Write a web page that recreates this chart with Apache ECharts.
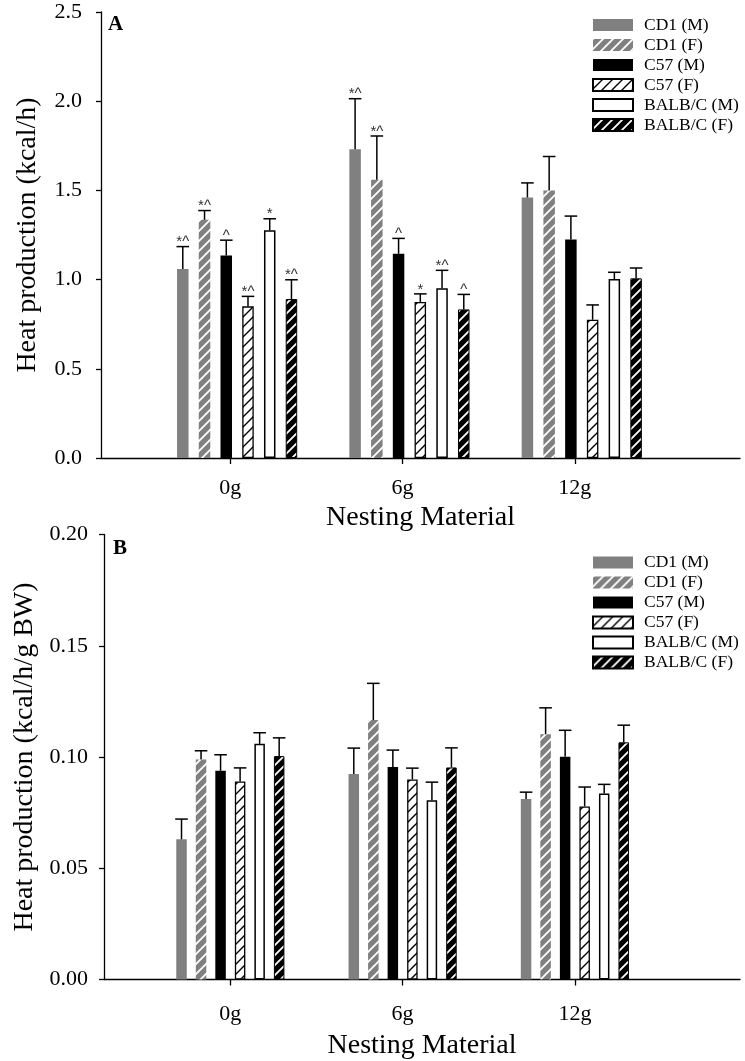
<!DOCTYPE html>
<html><head><meta charset="utf-8">
<script src="https://cdn.jsdelivr.net/npm/echarts@6/dist/echarts.min.js"></script>
<style>html,body{margin:0;padding:0;background:#fff}#c{width:745px;height:1061px}</style>
</head><body><div id="c"></div>
<script>
// ---- data ----
const categories = ['0g', '6g', '12g'];
const nestingGrams = [0, 6, 12];
const groupNames = ['CD1 (M)', 'CD1 (F)', 'C57 (M)', 'C57 (F)', 'BALB/C (M)', 'BALB/C (F)'];

// Panel A: heat production (kcal/h), mean and SEM per nesting level
const meanA_CD1_M  = [1.06, 1.73, 1.46];
const meanA_CD1_F  = [1.335, 1.56, 1.50];
const meanA_C57_M  = [1.135, 1.145, 1.225];
const meanA_C57_F  = [0.85, 0.875, 0.775];
const meanA_BALB_M = [1.276, 0.951, 1.003];
const meanA_BALB_F = [0.891, 0.833, 1.007];
const errA_CD1_M  = [0.125, 0.284, 0.082];
const errA_CD1_F  = [0.052, 0.245, 0.19];
const errA_C57_M  = [0.086, 0.086, 0.131];
const errA_C57_F  = [0.056, 0.045, 0.083];
const errA_BALB_M = [0.065, 0.101, 0.038];
const errA_BALB_F = [0.108, 0.084, 0.058];
const sigA_CD1_M  = ['*^', '*^', ''];
const sigA_CD1_F  = ['*^', '*^', ''];
const sigA_C57_M  = ['^', '^', ''];
const sigA_C57_F  = ['*^', '*', ''];
const sigA_BALB_M = ['*', '*^', ''];
const sigA_BALB_F = ['*^', '^', ''];

// Panel B: heat production (kcal/h/g BW)
const meanB_CD1_M  = [0.063, 0.0924, 0.0811];
const meanB_CD1_F  = [0.0989, 0.1166, 0.1102];
const meanB_C57_M  = [0.0938, 0.0955, 0.1001];
const meanB_C57_F  = [0.0890, 0.0899, 0.0778];
const meanB_BALB_M = [0.1059, 0.0806, 0.0836];
const meanB_BALB_F = [0.1004, 0.0953, 0.1066];
const errB_CD1_M  = [0.0091, 0.0116, 0.0031];
const errB_CD1_F  = [0.0039, 0.0165, 0.0119];
const errB_C57_M  = [0.0072, 0.0076, 0.0119];
const errB_C57_F  = [0.0061, 0.0051, 0.0087];
const errB_BALB_M = [0.0050, 0.0081, 0.0041];
const errB_BALB_F = [0.0082, 0.0088, 0.0077];

const yTicksA = [0, 0.5, 1.0, 1.5, 2.0, 2.5];
const yTicksB = [0, 0.05, 0.10, 0.15, 0.20];

// ---- assembly ----
const meansA = [meanA_CD1_M, meanA_CD1_F, meanA_C57_M, meanA_C57_F, meanA_BALB_M, meanA_BALB_F];
const errsA = [errA_CD1_M, errA_CD1_F, errA_C57_M, errA_C57_F, errA_BALB_M, errA_BALB_F];
const sigsA = [sigA_CD1_M, sigA_CD1_F, sigA_C57_M, sigA_C57_F, sigA_BALB_M, sigA_BALB_F];
const meansB = [meanB_CD1_M, meanB_CD1_F, meanB_C57_M, meanB_C57_F, meanB_BALB_M, meanB_BALB_F];
const errsB = [errB_CD1_M, errB_CD1_F, errB_C57_M, errB_C57_F, errB_BALB_M, errB_BALB_F];

const FONT = 'Liberation Serif';
const GRAY = '#808080';

function hatch(bg, fg, lw) {
  const s = 10;
  const c = document.createElement('canvas');
  c.width = s; c.height = s;
  const ctx = c.getContext('2d');
  ctx.fillStyle = bg; ctx.fillRect(0, 0, s, s);
  ctx.strokeStyle = fg; ctx.lineWidth = lw; ctx.lineCap = 'square';
  ctx.beginPath();
  ctx.moveTo(-2, s + 2); ctx.lineTo(s + 2, -2);
  ctx.moveTo(-2, 2); ctx.lineTo(2, -2);
  ctx.moveTo(s - 2, s + 2); ctx.lineTo(s + 2, s - 2);
  ctx.stroke();
  return { image: c, repeat: 'repeat' };
}

const styles = [
  { color: GRAY },
  { color: hatch(GRAY, '#ffffff', 1.8) },
  { color: '#000000' },
  { color: hatch('#ffffff', '#000000', 1.4), borderColor: '#000', borderWidth: 1.3 },
  { color: '#ffffff', borderColor: '#000', borderWidth: 1.5 },
  { color: hatch('#000000', '#ffffff', 1.8), borderColor: '#000', borderWidth: 1 }
];

const BAR_A = 11.5, GAP_A = 0.89, BAR_B = 10.5, GAP_B = 0.86;

function errRenderer(step, sigTable) {
  return function (params, api) {
    const x = api.value(0), m = api.value(1), e = api.value(2), k = api.value(3), j = api.value(4);
    const pb = api.coord([x, m]);
    const pt = api.coord([x, m + e]);
    const cx = pb[0] + (k - 2.5) * step;
    const half = 6.3;
    const children = [
      { type: 'line', shape: { x1: cx, y1: pb[1], x2: cx, y2: pt[1] }, style: { stroke: '#000', lineWidth: 1.5 } },
      { type: 'line', shape: { x1: cx - half, y1: pt[1], x2: cx + half, y2: pt[1] }, style: { stroke: '#000', lineWidth: 1.5 } }
    ];
    const s = sigTable ? sigTable[k][j] : '';
    if (s) {
      children.push({ type: 'text', x: cx, y: pt[1] + 3,
        style: { text: s, fontSize: 15, fontFamily: 'Liberation Sans', fill: '#333', align: 'center', verticalAlign: 'bottom' } });
    }
    return { type: 'group', children: children };
  };
}

const series = [];
function addPanel(means, errs, sigs, xIdx, yIdx, barW, barGap) {
  means.forEach(function (arr, i) {
    series.push({
      type: 'bar', name: groupNames[i], xAxisIndex: xIdx, yAxisIndex: yIdx,
      data: nestingGrams.map(function (g, j) { return [g, arr[j]]; }),
      barWidth: barW, barGap: Math.round(barGap * 100) + '%',
      itemStyle: styles[i], silent: true, animation: false
    });
  });
  const errData = [];
  means.forEach(function (arr, i) {
    nestingGrams.forEach(function (g, j) { errData.push([g, arr[j], errs[i][j], i, j]); });
  });
  series.push({
    type: 'custom', xAxisIndex: xIdx, yAxisIndex: yIdx, silent: true, animation: false,
    dimensions: ['x', 'y', 'e', 'k', 'j'], encode: { x: 0, y: 1 },
    renderItem: errRenderer(barW * (1 + barGap), sigs), data: errData, z: 5
  });
}
addPanel(meansA, errsA, sigsA, 1, 0, BAR_A, GAP_A);
addPanel(meansB, errsB, null, 3, 1, BAR_B, GAP_B);

function xVisible(gridIndex, min, max, margin, nameGap) {
  return {
    type: 'value', gridIndex: gridIndex, min: min, max: max,
    name: 'Nesting Material', nameLocation: 'middle', nameGap: nameGap,
    nameTextStyle: { fontFamily: FONT, fontSize: 28, color: '#000' },
    axisLine: { show: true, onZero: false, lineStyle: { color: '#000', width: 1.3 } },
    axisTick: { show: true, inside: false, length: 6, customValues: nestingGrams, lineStyle: { color: '#000', width: 1.3 } },
    axisLabel: { show: true, customValues: nestingGrams, margin: margin, fontFamily: FONT, fontSize: 22, color: '#000',
      formatter: function (v) { const i = nestingGrams.indexOf(v); return i >= 0 ? categories[i] : ''; } },
    splitLine: { show: false }
  };
}
function xHidden(gridIndex, min, max) {
  return { type: 'value', gridIndex: gridIndex, min: min, max: max, show: false, splitLine: { show: false } };
}
function yAxis(gridIndex, ticks, digits, name, margin, nameGap) {
  return {
    type: 'value', gridIndex: gridIndex, min: ticks[0], max: ticks[ticks.length - 1], interval: ticks[1] - ticks[0],
    name: name, nameLocation: 'middle', nameGap: nameGap,
    nameTextStyle: { fontFamily: FONT, fontSize: 28, color: '#000' },
    axisLine: { show: true, onZero: false, lineStyle: { color: '#000', width: 1.3 } },
    axisTick: { show: true, inside: false, length: 5, lineStyle: { color: '#000', width: 1.3 } },
    axisLabel: { margin: margin, fontFamily: FONT, fontSize: 22, color: '#000',
      formatter: function (v) { return v.toFixed(digits); } },
    splitLine: { show: false }
  };
}

function legendAt(top) {
  return {
    orient: 'vertical', left: 592, top: top, padding: 0, data: groupNames, icon: 'rect',
    itemWidth: 40, itemHeight: 12, itemGap: 0, selectedMode: false,
    textStyle: { fontFamily: FONT, fontSize: 17.5, color: '#000', lineHeight: 20, padding: [0, 0, 0, 6] }
  };
}

const option = {
  backgroundColor: '#fff',
  animation: false,
  grid: [
    { left: 101, top: 12, right: 5, height: 446, containLabel: false, outerBoundsMode: 'none' },
    { left: 104, top: 534.5, right: 5, height: 445, containLabel: false, outerBoundsMode: 'none' }
  ],
  xAxis: [
    xVisible(0, -4.5, 17.75, 19, 46),
    xHidden(0, -4.74, 17.51),
    xVisible(1, -4.4, 17.75, 24, 52),
    xHidden(1, -4.4, 17.75)
  ],
  yAxis: [
    yAxis(0, yTicksA, 1, 'Heat production (kcal/h)', 19, 59),
    yAxis(1, yTicksB, 2, 'Heat production (kcal/h/g BW)', 16, 61)
  ],
  legend: [legendAt(15), legendAt(552.5)],
  graphic: [
    { type: 'text', left: 108, top: 14, style: { text: 'A', font: 'bold 21px "Liberation Serif"', fill: '#000' } },
    { type: 'text', left: 113, top: 538, style: { text: 'B', font: 'bold 21px "Liberation Serif"', fill: '#000' } }
  ],
  series: series
};

const chart = echarts.init(document.getElementById('c'), null, { renderer: 'canvas' });
chart.setOption(option);
</script>
</body></html>
